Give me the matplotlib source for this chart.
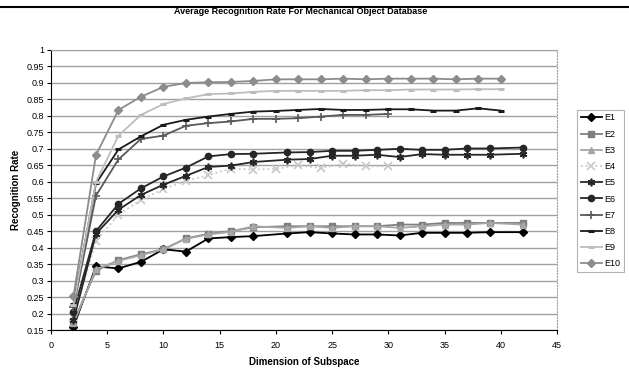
import numpy as np
import matplotlib
matplotlib.use("Agg")
from matplotlib import pyplot as plt
from matplotlib.ticker import MultipleLocator, FuncFormatter

plt.rcParams['font.family'] = ['Liberation Sans', 'DejaVu Sans']

# x positions of the points
x_even40 = [2, 4, 6, 8, 10, 12, 14, 16, 18, 20, 22, 24, 26, 28, 30, 32, 34, 36, 38, 40]
x_even30 = [2, 4, 6, 8, 10, 12, 14, 16, 18, 20, 22, 24, 26, 28, 30]
x_odd42 = [2, 4, 6, 8, 10, 12, 14, 16, 18, 21, 23, 25, 27, 29, 31, 33, 35, 37, 39, 42]

e1 = [0.16, 0.343, 0.337, 0.357, 0.395, 0.388, 0.428, 0.432, 0.435, 0.443, 0.447, 0.443, 0.44, 0.44, 0.437, 0.445, 0.445, 0.445, 0.447, 0.447]
e2 = [0.175, 0.33, 0.362, 0.38, 0.395, 0.428, 0.442, 0.45, 0.462, 0.465, 0.465, 0.465, 0.465, 0.465, 0.47, 0.47, 0.475, 0.475, 0.475, 0.475]
e3 = [0.17, 0.335, 0.36, 0.377, 0.395, 0.427, 0.44, 0.448, 0.465, 0.46, 0.465, 0.46, 0.465, 0.465, 0.46, 0.465, 0.47, 0.47, 0.475, 0.47]
e4 = [0.19, 0.42, 0.5, 0.545, 0.578, 0.603, 0.62, 0.64, 0.637, 0.639, 0.65, 0.642, 0.655, 0.647, 0.647]
e5 = [0.18, 0.442, 0.515, 0.56, 0.591, 0.618, 0.645, 0.649, 0.66, 0.667, 0.669, 0.679, 0.679, 0.682, 0.675, 0.684, 0.682, 0.682, 0.682, 0.685]
e6 = [0.205, 0.45, 0.533, 0.58, 0.616, 0.643, 0.677, 0.684, 0.685, 0.689, 0.69, 0.694, 0.694, 0.697, 0.7, 0.697, 0.697, 0.701, 0.701, 0.704]
e7 = [0.22, 0.558, 0.668, 0.73, 0.74, 0.77, 0.778, 0.783, 0.791, 0.791, 0.793, 0.798, 0.803, 0.803, 0.806]
e8 = [0.23, 0.595, 0.698, 0.738, 0.773, 0.788, 0.798, 0.806, 0.813, 0.815, 0.818, 0.821, 0.818, 0.818, 0.82, 0.82, 0.816, 0.816, 0.823, 0.816]
e9 = [0.225, 0.6, 0.74, 0.803, 0.836, 0.853, 0.866, 0.868, 0.873, 0.876, 0.876, 0.876, 0.876, 0.878, 0.878, 0.88, 0.88, 0.88, 0.881, 0.881]
e10 = [0.253, 0.681, 0.818, 0.858, 0.888, 0.9, 0.902, 0.903, 0.906, 0.911, 0.911, 0.911, 0.913, 0.911, 0.913, 0.913, 0.913, 0.911, 0.913, 0.913]

series = [
    ('E1', x_odd42, e1, '#000000', 'D', '-'),
    ('E2', x_odd42, e2, '#7f7f7f', 's', '-'),
    ('E3', x_odd42, e3, '#a6a6a6', '^', '-'),
    ('E4', x_even30, e4, '#c8c8c8', 'x', ':'),
    ('E5', x_odd42, e5, '#262626', (6, 2, 0), '-'),
    ('E6', x_odd42, e6, '#262626', 'o', '-'),
    ('E7', x_even30, e7, '#595959', '+', '-'),
    ('E8', x_even40, e8, '#1a1a1a', '_', '-'),
    ('E9', x_even40, e9, '#bdbdbd', '_', '-'),
    ('E10', x_even40, e10, '#8c8c8c', 'D', '-'),
]

fig = plt.figure(figsize=(6.29, 3.68), dpi=100)
ax = fig.add_axes([51/629, 1-330/368, (557-51)/629, (330-50)/368])

for name, xs, ys, col, mk, ls in series:
    ms = 4.5
    mew = 1.0
    if mk in ('x', '+', (6, 2, 0)):
        ms = 5.5
        mew = 1.2
    if mk == '_':
        ms = 5
        mew = 2.2
    if mk == 'D':
        ms = 4
    ax.plot(xs, ys, color=col, linestyle=ls, linewidth=1.3, marker=mk,
            markersize=ms, markeredgewidth=mew, markerfacecolor=col,
            markeredgecolor=col, label=name)

ax.set_xlim(0, 45)
ax.set_ylim(0.15, 1.0)
ax.xaxis.set_major_locator(MultipleLocator(5))
ax.set_yticks(np.arange(0.15, 1.001, 0.05))
ax.yaxis.set_major_formatter(FuncFormatter(lambda v, p: ('%.2f' % v).rstrip('0').rstrip('.')))
ax.yaxis.grid(True, color='#a0a0a0', linewidth=1.0)
ax.set_axisbelow(True)
ax.tick_params(labelsize=6.5, length=3, width=0.8, pad=2)
ax.tick_params(axis='x', pad=5)

ax.spines['left'].set_color('black')
ax.spines['bottom'].set_color('black')
ax.spines['top'].set_color('#a0a0a0')
ax.spines['right'].set_color('#a0a0a0')
ax.spines['right'].set_linestyle(':')

ax.set_xlabel('Dimension of Subspace', fontsize=7, fontweight='bold', labelpad=5)
ax.set_ylabel('Recognition Rate', fontsize=7, fontweight='bold', labelpad=4)

fig.text(0.478, 1-12/368, 'Average Recognition Rate For Mechanical Object Database',
         ha='center', va='center', fontsize=6.5, fontweight='bold')
fig.add_artist(plt.Line2D([0, 1], [1-7/368, 1-7/368], color='black', linewidth=1.5,
                          transform=fig.transFigure))

leg = fig.legend(loc='center left', bbox_to_anchor=(577/629, 1-191/368),
                 fontsize=6.5, frameon=True, fancybox=False, edgecolor='#a0a0a0',
                 handlelength=2.4, labelspacing=0.8, borderpad=0.4,
                 handletextpad=0.25, borderaxespad=0.0)
leg.get_frame().set_linewidth(0.8)

fig.savefig('out.png', dpi=100)
